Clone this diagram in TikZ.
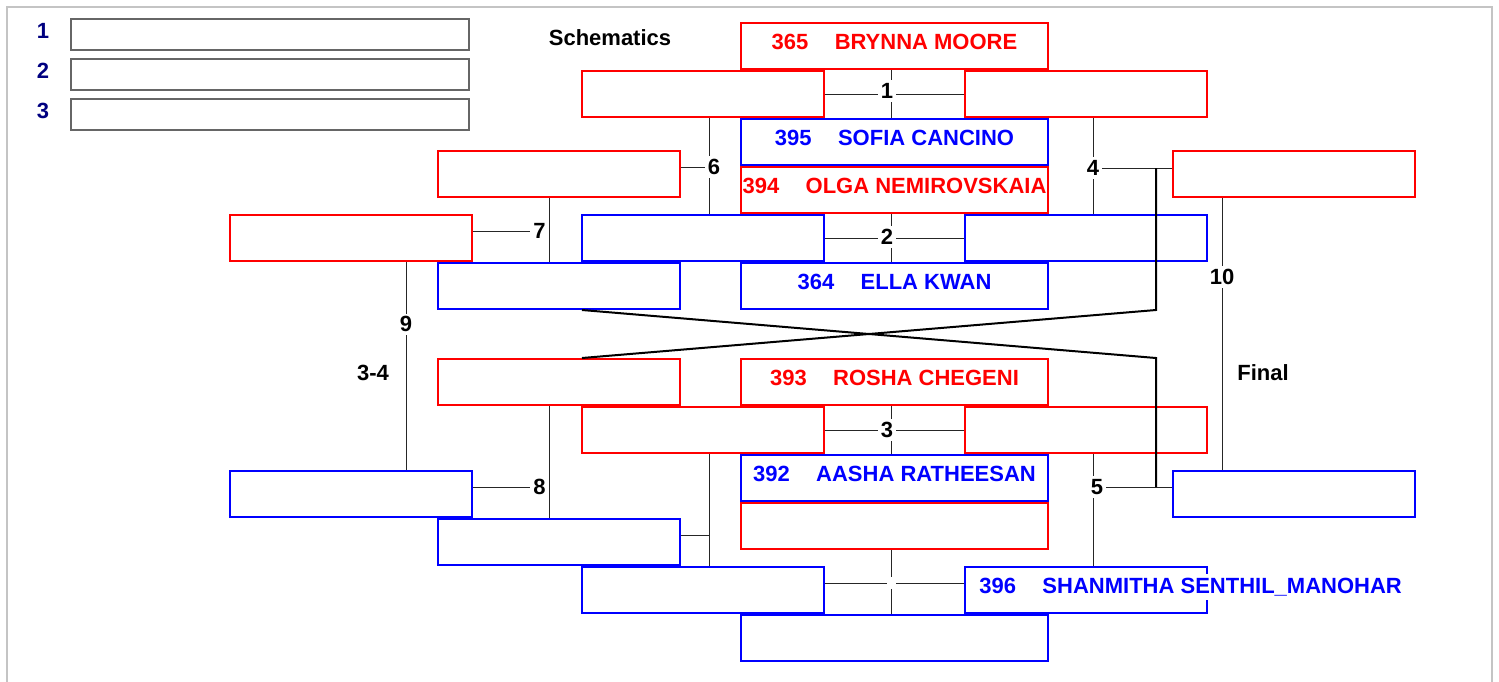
\documentclass[tikz,border=0pt]{standalone}
\usepackage{fontspec}
\setmainfont{Liberation Sans}
\usetikzlibrary{calc}

\definecolor{navyblue}{HTML}{000080}
\definecolor{framegray}{HTML}{C4C4C4}
\definecolor{boxgray}{HTML}{666666}

\begin{document}
\begin{tikzpicture}[x=0.5pt,y=-0.5pt,
	every node/.style={font=\bfseries\fontsize{11}{13}\selectfont},
	red node/.style={draw=red,line width=1pt,minimum width=121pt,minimum height=23pt,inner sep=0pt,text=red},
	blue node/.style={draw=blue,line width=1pt,minimum width=121pt,minimum height=23pt,inner sep=0pt,text=blue},
	seed red/.style={red node,minimum width=153.5pt,text depth=4pt},
	seed blue/.style={blue node,minimum width=153.5pt,text depth=4pt},
	legend node/.style={draw=boxgray,line width=1pt,minimum width=199pt,minimum height=15.5pt,inner sep=0pt},
	match label/.style={fill=white,inner sep=1.5pt},
	bout/.style={draw=black!85,line width=0.5pt},
	drop/.style={draw=black,line width=1pt}]
		\useasboundingbox (0,0) rectangle (1499,681);
		\draw[framegray,line width=1.2pt] (7,700) -- (7,7) -- (1492,7) -- (1492,700);
		% legend
		\node[text=navyblue] (n1) at (43,31) {1};
		\node[text=navyblue] (n2) at (43,71) {2};
		\node[text=navyblue] (n3) at (43,111) {3};
		\node[legend node] (lb1) at (270,34.5) {};
		\node[legend node] (lb2) at (270,74.5) {};
		\node[legend node] (lb3) at (270,114.5) {};
		\node (schem) at (610,38) {Schematics};
		\node (final) at (1263,373) {Final};
		\node (third) at (373,373) {3-4};
		% seeds
		\node[seed red] (c1) at (894.5,46) {365\hspace{1.2em}BRYNNA MOORE};
		\node[seed blue] (c2) at (894.5,142) {395\hspace{1.2em}SOFIA CANCINO};
		\node[seed red] (c3) at (894.5,190) {394\hspace{1.2em}OLGA NEMIROVSKAIA};
		\node[seed blue] (c4) at (894.5,286) {364\hspace{1.2em}ELLA KWAN};
		\node[seed red] (c5) at (894.5,382) {393\hspace{1.2em}ROSHA CHEGENI};
		\node[seed blue] (c6) at (894.5,478) {392\hspace{1.2em}AASHA RATHEESAN};
		\node[seed red] (c7) at (894.5,526) {};
		\node[seed blue] (c8) at (894.5,638) {};
		% first round
		\node[red node] (bl1) at (703,94) {};
		\node[blue node] (bl2) at (703,238) {};
		\node[red node] (bl3) at (703,430) {};
		\node[blue node] (bl4) at (703,590) {};
		\node[red node] (br1) at (1086,94) {};
		\node[blue node] (br2) at (1086,238) {};
		\node[red node] (br3) at (1086,430) {};
		\node[blue node] (br4) at (1086,590) {};
		\node[fill=white,inner sep=2pt,text=blue,anchor=west] (n396) at ([xshift=5.5pt,yshift=1.5pt]br4.west) {396\hspace{1.2em}SHANMITHA SENTHIL\_MANOHAR};
		% repechage and final
		\node[red node] (cl1) at (559,174) {};
		\node[blue node] (cl2) at (559,286) {};
		\node[red node] (cl3) at (559,382) {};
		\node[blue node] (cl4) at (559,542) {};
		\node[red node] (dl1) at (351,238) {};
		\node[blue node] (dl2) at (351,494) {};
		\node[red node] (cr1) at (1294,174) {};
		\node[blue node] (cr2) at (1294,494) {};
		% spines
		\coordinate (s1) at (891,0);
		\coordinate (s6) at (709,0);
		\coordinate (s4) at (1093,0);
		\coordinate (s7) at (549,0);
		\coordinate (s9) at (406,0);
		\coordinate (s10) at (1222,0);
		\coordinate (h4) at ([yshift=3pt]cr1.west);
		\coordinate (h5) at ([yshift=3.5pt]cr2.west);
		\coordinate (h6) at ([yshift=3.5pt]cl1.east);
		\coordinate (h7) at ([yshift=3.5pt]dl1.east);
		\coordinate (h8) at ([yshift=3.5pt]dl2.east);
		\coordinate (h11) at ([yshift=3.5pt]cl4.east);
		\coordinate (h12) at ([yshift=3.5pt]bl4.east);
		\coordinate (k12) at ([yshift=3.5pt]br4.west);
		% bouts 1-3 and the last one
		\draw[bout] (bl1.east) -- (br1.west);
		\draw[bout] (c1.south -| s1) -- (c2.north -| s1);
		\node[match label] (m1) at ([xshift=-2pt,yshift=1.5pt]bl1.east -| s1) {1};
		\draw[bout] (bl2.east) -- (br2.west);
		\draw[bout] (c3.south -| s1) -- (c4.north -| s1);
		\node[match label] (m2) at ([xshift=-2pt,yshift=0.5pt]bl2.east -| s1) {2};
		\draw[bout] (bl3.east) -- (br3.west);
		\draw[bout] (c5.south -| s1) -- (c6.north -| s1);
		\node[match label] (m3) at ([xshift=-2pt]bl3.east -| s1) {3};
		\draw[bout] (h12) -- (k12);
		\draw[bout] (c7.south -| s1) -- (c8.north -| s1);
		\node[fill=white,minimum width=4.5pt,minimum height=6pt,inner sep=0pt] (m12) at (h12 -| s1) {};
		% bouts 4-6
		\draw[bout] (br1.south -| s4) -- (br2.north -| s4);
		\draw[bout] (h4 -| s4) -- (h4);
		\node[match label] (m4) at (h4 -| s4) {4};
		\draw[bout] (br3.south -| s4) -- (br4.north -| s4);
		\draw[bout] (h5 -| s4) -- (h5);
		\node[match label] (m5) at ([xshift=2pt]h5 -| s4) {5};
		\draw[bout] (bl1.south -| s6) -- (bl2.north -| s6);
		\draw[bout] (h6) -- (h6 -| s6);
		\node[match label] (m6) at ([xshift=2.5pt]h6 -| s6) {6};
		\draw[bout] (bl3.south -| s6) -- (bl4.north -| s6);
		\draw[bout] (h11) -- (h11 -| s6);
		% bouts 7-10
		\draw[bout] (cl1.south -| s7) -- (cl2.north -| s7);
		\draw[bout] (h7) -- (h7 -| s7);
		\node[match label,anchor=east] (m7) at (h7 -| s7) {7};
		\draw[bout] (cl3.south -| s7) -- (cl4.north -| s7);
		\draw[bout] (h8) -- (h8 -| s7);
		\node[match label,anchor=east] (m8) at (h8 -| s7) {8};
		\coordinate (t9) at (dl1.south -| s9);
		\coordinate (b9) at (dl2.north -| s9);
		\draw[bout] (t9) -- (b9);
		\node[match label] (m9) at ($(t9)!0.3!(b9)$) {9};
		\coordinate (t10) at (cr1.south -| s10);
		\coordinate (b10) at (cr2.north -| s10);
		\draw[bout] (t10) -- (b10);
		\node[match label] (m10) at ($(t10)!0.29!(b10)$) {10};
		% losers dropping down
		\coordinate (j4) at ([xshift=-8pt]h4);
		\coordinate (j5) at ([xshift=-8pt]h5);
		\draw[drop] (j4) -- (j4 |- cl2.south) -- ([xshift=11.5pt]cl3.north);
		\draw[drop] ([xshift=11.5pt]cl2.south) -- (j4 |- cl3.north) -- (j5);
\end{tikzpicture}
\end{document}
